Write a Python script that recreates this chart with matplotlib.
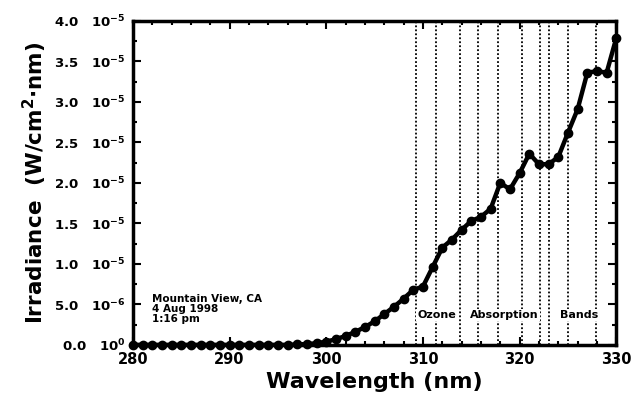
import numpy as np
import matplotlib
matplotlib.use("Agg")
import matplotlib.pyplot as plt
from matplotlib.ticker import MultipleLocator

plt.rcParams['font.family'] = ['DejaVu Sans']
plt.rcParams['font.weight'] = 'bold'
plt.rcParams['mathtext.fontset'] = 'custom'
plt.rcParams['mathtext.rm'] = 'DejaVu Sans:bold'
plt.rcParams['mathtext.bf'] = 'DejaVu Sans:bold'
plt.rcParams['mathtext.default'] = 'bf'

# spectrum (units of 1e-5 W/cm^2/nm)
wavelength = list(range(280, 331))
irradiance = [0, 0, 0, 0, 0, 0, 0, 0, 0, 0,
              0, 0, 0, 0, 0, 0, 0, 0.005, 0.01, 0.02,
              0.04, 0.07, 0.11, 0.16, 0.22, 0.29, 0.38, 0.47, 0.57, 0.68,
              0.72, 0.96, 1.20, 1.30, 1.42, 1.53, 1.58, 1.68, 2.00, 1.92,
              2.12, 2.36, 2.23, 2.23, 2.32, 2.62, 2.91, 3.36, 3.38, 3.36,
              3.79]

# ozone absorption band positions (nm)
ozone_bands = [309.3, 311.4, 313.8, 315.7, 317.8, 320.2, 322.1, 323.0, 325.0, 327.9]

y_ticks = [0, 0.5e-5, 1.0e-5, 1.5e-5, 2.0e-5, 2.5e-5, 3.0e-5, 3.5e-5, 4.0e-5]
y_tick_labels = ['0.0   10$^{0}$', '5.0   10$^{-6}$', '1.0   10$^{-5}$', '1.5   10$^{-5}$',
                 '2.0   10$^{-5}$', '2.5   10$^{-5}$', '3.0   10$^{-5}$', '3.5   10$^{-5}$',
                 '4.0   10$^{-5}$']
x_ticks = [280, 290, 300, 310, 320, 330]

# label words of the band annotation and where each starts (nm)
band_words = ['Ozone', 'Absorption', 'Bands']
band_word_x = [309.4, 314.9, 324.2]

fig = plt.figure(figsize=(6.42, 4.01), dpi=100)
ax = fig.add_axes([0.207, 0.140, 0.753, 0.808])

for wl in ozone_bands:
    ax.axvline(wl, color='black', linestyle=(0, (1, 1.2)), linewidth=1.3, zorder=1)

y = np.array(irradiance) * 1e-5
ax.plot(wavelength, y, color='black', linewidth=3.2, marker='o', markersize=6,
        clip_on=False, zorder=3)

ax.set_xlim(280, 330)
ax.set_ylim(0, 4e-5)
ax.set_xticks(x_ticks)
ax.set_xticklabels([str(t) for t in x_ticks], fontsize=10.5, fontweight='bold')
ax.xaxis.set_minor_locator(MultipleLocator(2))
ax.set_yticks(y_ticks)
ax.set_yticklabels(y_tick_labels, fontsize=9.5, fontweight='bold')
ax.yaxis.set_minor_locator(MultipleLocator(0.25e-5))

ax.tick_params(which='both', direction='in', top=True, right=True, width=1.5)
ax.tick_params(which='major', length=6, pad=5)
ax.tick_params(which='minor', length=3)
for s in ax.spines.values():
    s.set_linewidth(2.5)

ax.set_xlabel('Wavelength (nm)', fontsize=16, fontweight='bold', labelpad=4)
ax.set_ylabel('Irradiance  (W/cm$^{2}$$\\cdot$nm)', fontsize=15.5, fontweight='bold', labelpad=4)

ax.text(282.0, 0.63e-5, 'Mountain View, CA\n4 Aug 1998\n1:16 pm', fontsize=7.5,
        fontweight='bold', va='top', ha='left', linespacing=1.0)
for word, wx in zip(band_words, band_word_x):
    ax.text(wx, 0.37e-5, word, fontsize=8, fontweight='bold', va='center', ha='left',
            zorder=4, bbox=dict(facecolor='white', edgecolor='none', pad=0.5))

fig.savefig('out.png', dpi=100)
